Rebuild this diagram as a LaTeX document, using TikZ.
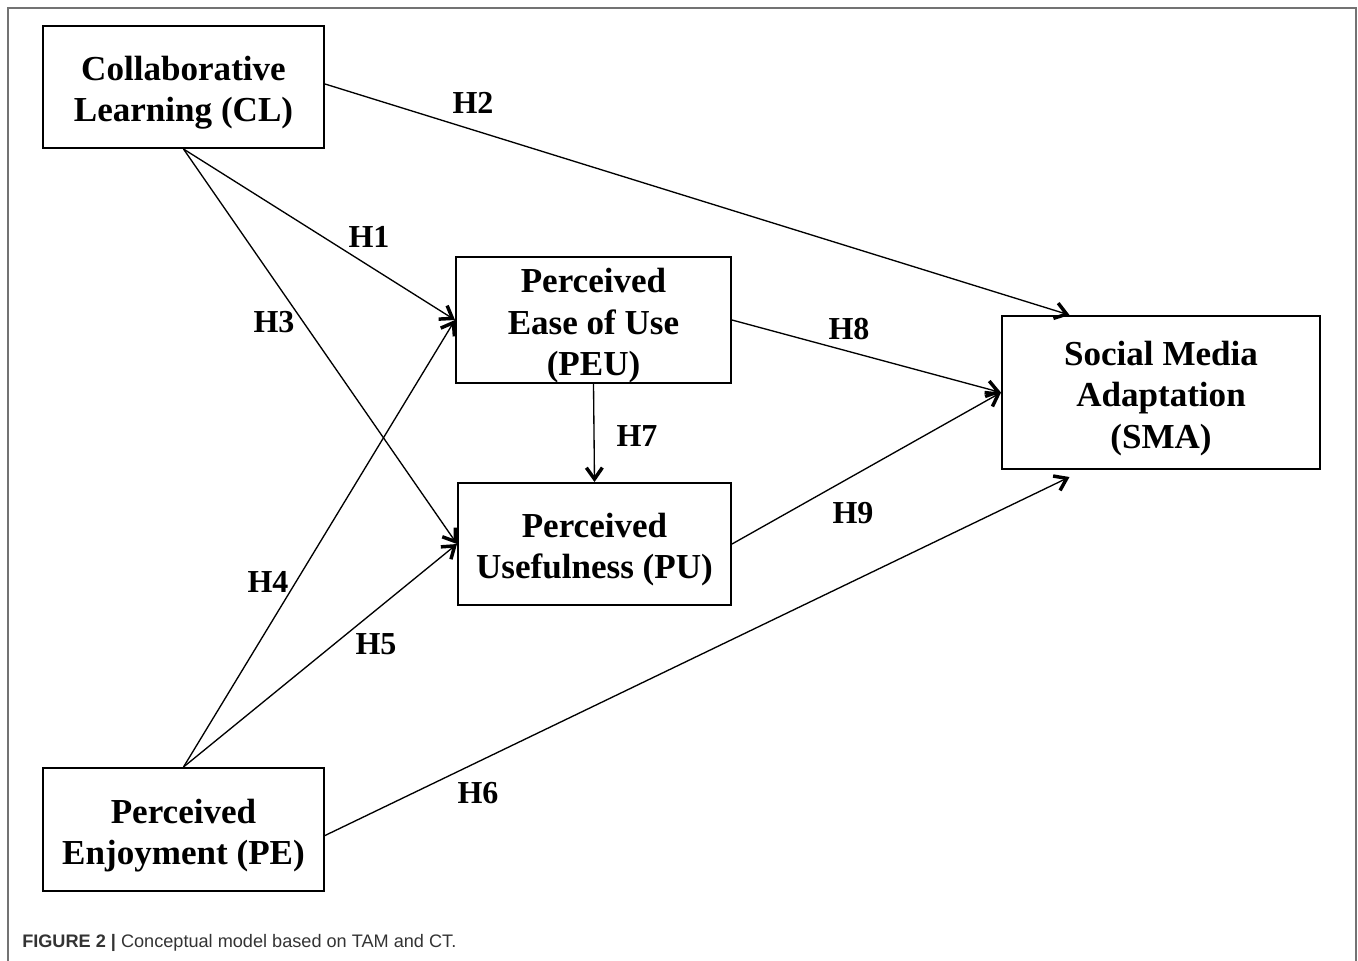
\documentclass[tikz,border=0pt]{standalone}
\usepackage{fontspec}
\setmainfont{Liberation Serif}
\newfontfamily\capfont{Liberation Sans}
\usetikzlibrary{arrows.meta,calc}
\newcommand{\tstrut}{\rule{0pt}{27pt}}
\begin{document}
\begin{tikzpicture}[x=0.75pt,y=-0.75pt,
  box/.style={draw,line width=1.5pt,rectangle,align=center,inner sep=0pt,
    font=\fontsize{26.3}{31}\selectfont\bfseries},
  conn/.style={line width=1pt,-{Straight Barb[length=8.5pt,width=12pt,line width=2.6pt]}},
  hlab/.style={font=\fontsize{24}{26}\selectfont\bfseries,inner sep=0pt}]
\useasboundingbox (0,0) rectangle (1358,960);
\draw[line width=1.5pt,color=black!55] (8,962) -- (8,8) -- (1356,8) -- (1356,962);
\node[box,minimum width=281*0.75pt,minimum height=122*0.75pt] (CL) at (183.5,87) {\tstrut Collaborative\\Learning (CL)};
\node[box,minimum width=275*0.75pt,minimum height=126*0.75pt] (PEU) at (593.5,320) {\tstrut Perceived\\Ease of Use\\(PEU)};
\node[box,minimum width=273*0.75pt,minimum height=122*0.75pt] (PU) at (594.5,544) {\tstrut Perceived\\Usefulness (PU)};
\node[box,minimum width=318*0.75pt,minimum height=153*0.75pt] (SMA) at (1161,392.5) {\tstrut Social Media\\Adaptation\\(SMA)};
\node[box,minimum width=281*0.75pt,minimum height=123*0.75pt] (PE) at (183.5,829.5) {\tstrut Perceived\\Enjoyment (PE)};
\coordinate (SMAtop) at ($(SMA.north west)!0.214!(SMA.north east)$);
\coordinate (SMAbot) at ($(SMA.south west)!0.214!(SMA.south east)+(0,7)$);
\coordinate (CLr) at ($(CL.east)+(0,-3)$);
\coordinate (PEr) at ($(PE.east)+(0,6)$);
\draw[conn] (CLr) -- (SMAtop);
\draw[conn] (CL.south) -- (PEU.west);
\draw[conn] (CL.south) -- (PU.west);
\draw[conn] (PE.north) -- (PEU.west);
\draw[conn] (PE.north) -- (PU.west);
\draw[conn] (PEU.south) -- (PU.north);
\draw[conn] (PEU.east) -- (SMA.west);
\draw[conn] (PU.east) -- (SMA.west);
\draw[conn] (PEr) -- (SMAbot);
\node[hlab] (h2) at (473,103) {H2};
\node[hlab] (h1) at (369,237) {H1};
\node[hlab] (h3) at (274,322) {H3};
\node[hlab] (h8) at (849,329) {H8};
\node[hlab] (h7) at (637,436) {H7};
\node[hlab] (h9) at (853,513) {H9};
\node[hlab] (h4) at (268,582) {H4};
\node[hlab] (h5) at (376,644) {H5};
\node[hlab] (h6) at (478,793) {H6};
\node[anchor=base west,inner sep=0pt,text=black!80,font=\capfont\fontsize{13.6}{16}\selectfont] (cap) at (22,947) {\textbf{FIGURE 2 |} Conceptual model based on TAM and CT.};
\end{tikzpicture}
\end{document}
